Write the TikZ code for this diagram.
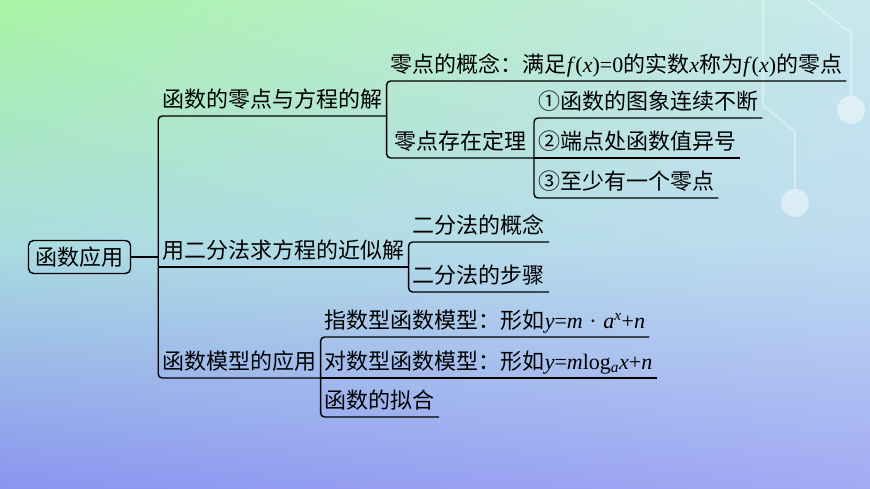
\documentclass[tikz,border=0pt]{standalone}
\usepackage{fontspec}
\setmainfont{Liberation Serif}
\newfontfamily\cjk{Noto Sans CJK SC}
\usetikzlibrary{positioning,shadings}
\definecolor{bgUL}{HTML}{A8F4A4}
\definecolor{bgUR}{HTML}{C8E8EE}
\definecolor{bgML}{HTML}{AADCE0}
\definecolor{bgMR}{HTML}{BEDCF0}
\definecolor{bgLL}{HTML}{8A94F0}
\definecolor{bgLR}{HTML}{A2AAF4}
\newcommand\lat[1]{\textrm{#1}}
\tikzset{
 rootbox/.style
  = {rectangle, draw, rounded corners=5pt, line width=1.4pt,
     minimum width=102pt, minimum height=33pt, inner sep=0pt},
 leaf/.style
  = {inner xsep=4pt, inner ysep=3pt, text height=16pt, text depth=5.5pt},
 link/.style
  = {draw, line width=1.4pt, rounded corners=4pt},
 deco/.style
  = {draw=white, line width=1.8pt, opacity=0.38},
 glow/.style
  = {fill=white, opacity=0.45}
}
\begin{document}
\begin{tikzpicture}[x=1pt, y=-1pt, font=\cjk\fontsize{22}{26}\selectfont]
    % background
    \useasboundingbox (0,0) rectangle (870,489);
    \shade[upper left=bgUL, upper right=bgUR, lower left=bgML, lower right=bgMR] (0,0) rectangle (870,245);
    \shade[upper left=bgML, upper right=bgMR, lower left=bgLL, lower right=bgLR] (0,244) rectangle (870,489);
    \draw[deco] (808,0) -- (851,33) -- (851,97);
    \draw[deco] (763,0) -- (763,105) -- (795,132) -- (795,190);
    \fill[glow] (851,110) circle (14);
    \fill[glow] (795,203) circle (14);

    \node [rootbox] (root) at (79.5,257) {函数应用};
    \node [leaf, above right = 141pt and 27pt of root.east] (zero) {函数的零点与方程的解};
    \node [leaf, above right = -10pt and 27pt of root.east] (bisect) {用二分法求方程的近似解};
    \node [leaf, above right = -121pt and 27pt of root.east] (model) {函数模型的应用};

    \node [leaf, above right = 35pt and 0pt of zero.south east] (zdef)
      {零点的概念：满足\lat{\textit{f}(\textit{x})=0}的实数\lat{\textit{x}}称为\lat{\textit{f}(\textit{x})}的零点};
    \node [leaf, inner xsep=7.5pt, above right = -42pt and 0pt of zero.south east] (zthm) {零点存在定理};
    \node [leaf, above right = 40pt and 0pt of zthm.south east] (cond1) {①函数的图象连续不断};
    \node [leaf, above right = 0pt and 0pt of zthm.south east] (cond2) {②端点处函数值异号};
    \node [leaf, above right = -40pt and 0pt of zthm.south east] (cond3) {③至少有一个零点};

    \node [leaf, above right = 25pt and 0pt of bisect.south east] (bdef) {二分法的概念};
    \node [leaf, above right = -25pt and 0pt of bisect.south east] (bstep) {二分法的步骤};

    \node [leaf, above right = 41pt and 0pt of model.south east] (mexp)
      {指数型函数模型：形如\lat{\textit{y}=\textit{m}\hspace{0.3em}·\hspace{0.3em}\textit{a}\textsuperscript{\textit{x}}+\textit{n}}};
    \node [leaf, above right = 0pt and 0pt of model.south east] (mlog)
      {对数型函数模型：形如\lat{\textit{y}=\textit{m}log\textsubscript{\textit{a}}\textit{x}+\textit{n}}};
    \node [leaf, above right = -39pt and 0pt of model.south east] (mfit) {函数的拟合};

    \path [link] (root.east) -- (root.east -| bisect.south west);
    \path [link] (zero.south east) -| (model.south west) -- (model.south east);
    \path [link] (bisect.south west) -- (bisect.south east);
    \path [link] (zdef.south east) -| (zthm.south west) -- (zthm.south east);
    \path [link] (cond1.south east) -| (cond3.south west) -- (cond3.south east);
    \path [link] (cond2.south west) -- (cond2.south east);
    \path [link] (bdef.south east) -| (bstep.south west) -- (bstep.south east);
    \path [link] (mexp.south east) -| (mfit.south west) -- (mfit.south east);
    \path [link] (mlog.south west) -- (mlog.south east);
\end{tikzpicture}
\end{document}
